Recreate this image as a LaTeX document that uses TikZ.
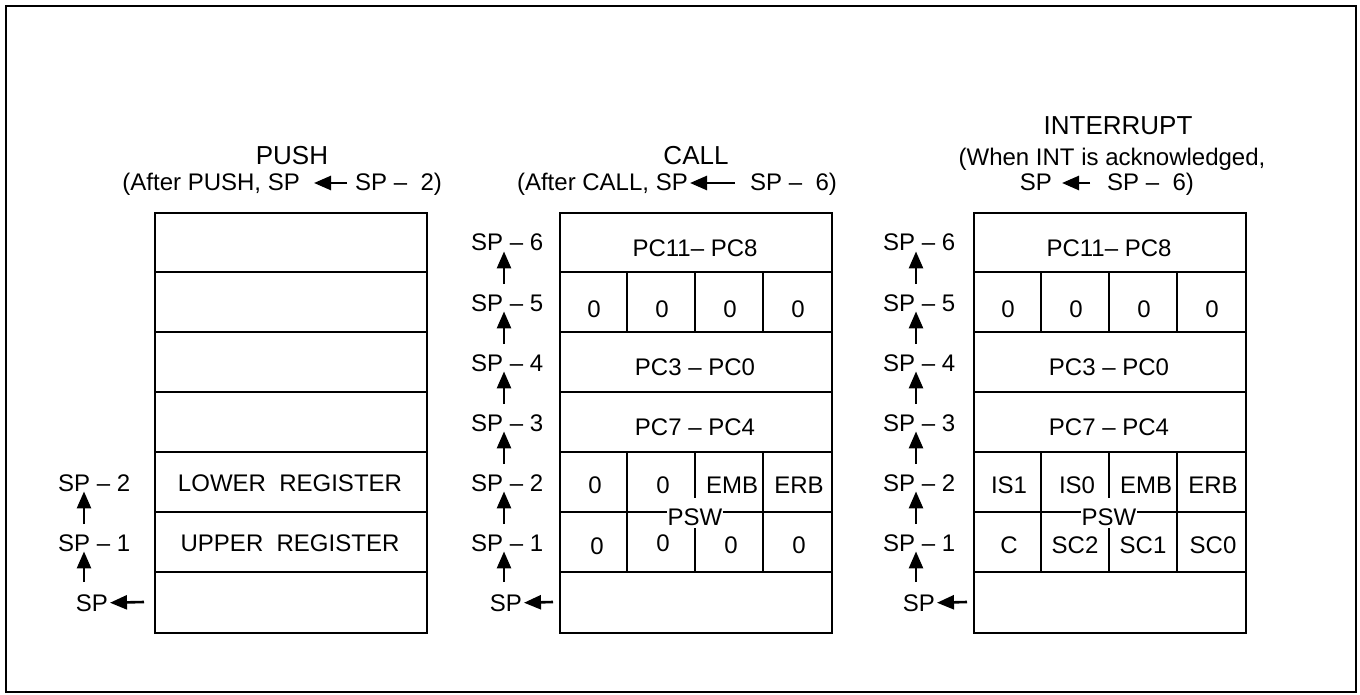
\documentclass[tikz,border=0pt]{standalone}
\usepackage{fontspec}
\setmainfont{Liberation Sans}
\usetikzlibrary{arrows.meta,calc}
\begin{document}
\begin{tikzpicture}[x=1pt,y=-1pt,
  every node/.style={inner sep=0pt},
  font=\fontsize{24}{28}\selectfont,
  frame/.style={line width=2pt},
  stackbox/.style={draw, line width=2.2pt, minimum width=272pt, minimum height=420pt, anchor=north west},
  sep/.style={line width=1.8pt},
  cell/.style={anchor=base},
  title/.style={anchor=base, font=\fontsize{26}{30}\selectfont},
  lbl/.style={anchor=base west},
  arr/.style={line width=2.6pt, -{Triangle[length=17pt,width=14pt]}},
  psw/.style={anchor=base, fill=white, inner sep=1pt}]
\useasboundingbox (0,0) rectangle (1360,695);
\draw[frame] (6,6) rectangle (1356,692);

% ================= PUSH =================
\node[title] (pusht) at (292,165) {PUSH};
\node[anchor=base east] (pushl) at (300,191) {(After PUSH, SP};
\node[anchor=base west] (pushr) at (355,191) {SP – \ 2)};
\draw[arr] ([xshift=-8pt,yshift=8pt]pushr.base west) -- ([xshift=14pt,yshift=8pt]pushl.base east);

\node[stackbox] (pushbox) at (154,212) {};
\foreach \y in {272,332,392,452,512,572} \draw[sep] (154,\y) -- (426,\y);
\node[cell] (pushlo) at (290,491) {LOWER\ \ REGISTER};
\node[cell] (pushup) at (290,551) {UPPER\ \ REGISTER};

\node[lbl] (p2) at (58,491) {SP – 2};
\node[lbl] (p1) at (58,551) {SP – 1};
\node[anchor=base east] (ps) at (108,611) {SP};
\draw[arr] ([xshift=26pt,yshift=10pt]p1.north west) -- ([xshift=26pt]p2.south west);
\draw[arr] ($(ps.north -| p1.south west)+(26,-12)$) -- ([xshift=26pt]p1.south west);
\coordinate (pst) at (144,602);
\draw[arr] (pst) -- ([xshift=2pt]ps.east);

% ================= CALL =================
\node[title] (callt) at (696,165) {CALL};
\node[anchor=base east] (calll) at (688,191) {(After CALL, SP};
\node[anchor=base west] (callr) at (750,191) {SP – \ 6)};
\draw[arr] ([xshift=-15pt,yshift=8pt]callr.base west) -- ([xshift=2pt,yshift=8pt]calll.base east);

\node[stackbox] (callbox) at (559,212) {};
\foreach \y in {272,332,392,452,512,572} \draw[sep] (559,\y) -- (831,\y);
\foreach \x in {627,763} {
  \draw[sep] (\x,272) -- (\x,332);
  \draw[sep] (\x,452) -- (\x,572);
}
\draw[sep] (695,272) -- (695,332);
\draw[sep] (695,452) -- (695,498);
\draw[sep] (695,528) -- (695,572);
\node[psw] (callpsw) at (695,525) {PSW};

\node[cell] (ca1) at (695,256) {PC11– PC8};
\foreach \x [count=\k] in {594,662,730,798} \node[cell] (ca2\k) at (\x,317) {0};
\node[cell] (ca3) at (695,375) {PC3 – PC0};
\node[cell] (ca4) at (695,435) {PC7 – PC4};
\node[cell] (ca51) at (595,493) {0};
\node[cell] (ca52) at (663,493) {0};
\node[cell] (ca53) at (732,493) {EMB};
\node[cell] (ca54) at (799,493) {ERB};
\node[cell] (ca61) at (597,554) {0};
\node[cell] (ca62) at (663,551) {0};
\node[cell] (ca63) at (731,553) {0};
\node[cell] (ca64) at (799,553) {0};

\foreach \i/\y in {6/242,5/302,4/362,3/422,2/482,1/542}
  \node[lbl] (c\i) at (471,\y+9) {SP – \i};
\node[anchor=base east] (cs) at (522,611) {SP};
\foreach \i/\j in {1/2,2/3,3/4,4/5,5/6}
  \draw[arr] ([xshift=33pt,yshift=10pt]c\i.north west) -- ([xshift=33pt]c\j.south west);
\draw[arr] ($(cs.north -| c1.south west)+(33,-12)$) -- ([xshift=33pt]c1.south west);
\coordinate (cst) at (553,602);
\draw[arr] (cst) -- ([xshift=2pt]cs.east);

% ================= INTERRUPT =================
\node[title] (intt) at (1118,135) {INTERRUPT};
\node[cell] (intw) at (1112,166) {(When INT is acknowledged,};
\node[anchor=base east] (intl) at (1052,191) {SP};
\node[anchor=base west] (intr) at (1107,191) {SP – \ 6)};
\draw[arr] ([xshift=-17pt,yshift=8pt]intr.base west) -- ([xshift=10pt,yshift=8pt]intl.base east);

\node[stackbox] (intbox) at (973,212) {};
\foreach \y in {272,332,392,452,512,572} \draw[sep] (973,\y) -- (1245,\y);
\foreach \x in {1041,1177} {
  \draw[sep] (\x,272) -- (\x,332);
  \draw[sep] (\x,452) -- (\x,572);
}
\draw[sep] (1109,272) -- (1109,332);
\draw[sep] (1109,452) -- (1109,498);
\draw[sep] (1109,528) -- (1109,572);
\node[psw] (intpsw) at (1109,525) {PSW};

\node[cell] (ia1) at (1109,256) {PC11– PC8};
\foreach \x [count=\k] in {1008,1076,1144,1212} \node[cell] (ia2\k) at (\x,317) {0};
\node[cell] (ia3) at (1109,375) {PC3 – PC0};
\node[cell] (ia4) at (1109,435) {PC7 – PC4};
\node[cell] (ia51) at (1009,493) {IS1};
\node[cell] (ia52) at (1077,493) {IS0};
\node[cell] (ia53) at (1146,493) {EMB};
\node[cell] (ia54) at (1213,493) {ERB};
\node[cell] (ia61) at (1009,553) {C};
\node[cell] (ia62) at (1075,553) {SC2};
\node[cell] (ia63) at (1143,553) {SC1};
\node[cell] (ia64) at (1213,553) {SC0};

\foreach \i/\y in {6/242,5/302,4/362,3/422,2/482,1/542}
  \node[lbl] (n\i) at (883,\y+9) {SP – \i};
\node[anchor=base east] (ns) at (935,611) {SP};
\foreach \i/\j in {1/2,2/3,3/4,4/5,5/6}
  \draw[arr] ([xshift=33pt,yshift=10pt]n\i.north west) -- ([xshift=33pt]n\j.south west);
\draw[arr] ($(ns.north -| n1.south west)+(33,-12)$) -- ([xshift=33pt]n1.south west);
\coordinate (nst) at (967,602);
\draw[arr] (nst) -- ([xshift=2pt]ns.east);
\end{tikzpicture}
\end{document}
